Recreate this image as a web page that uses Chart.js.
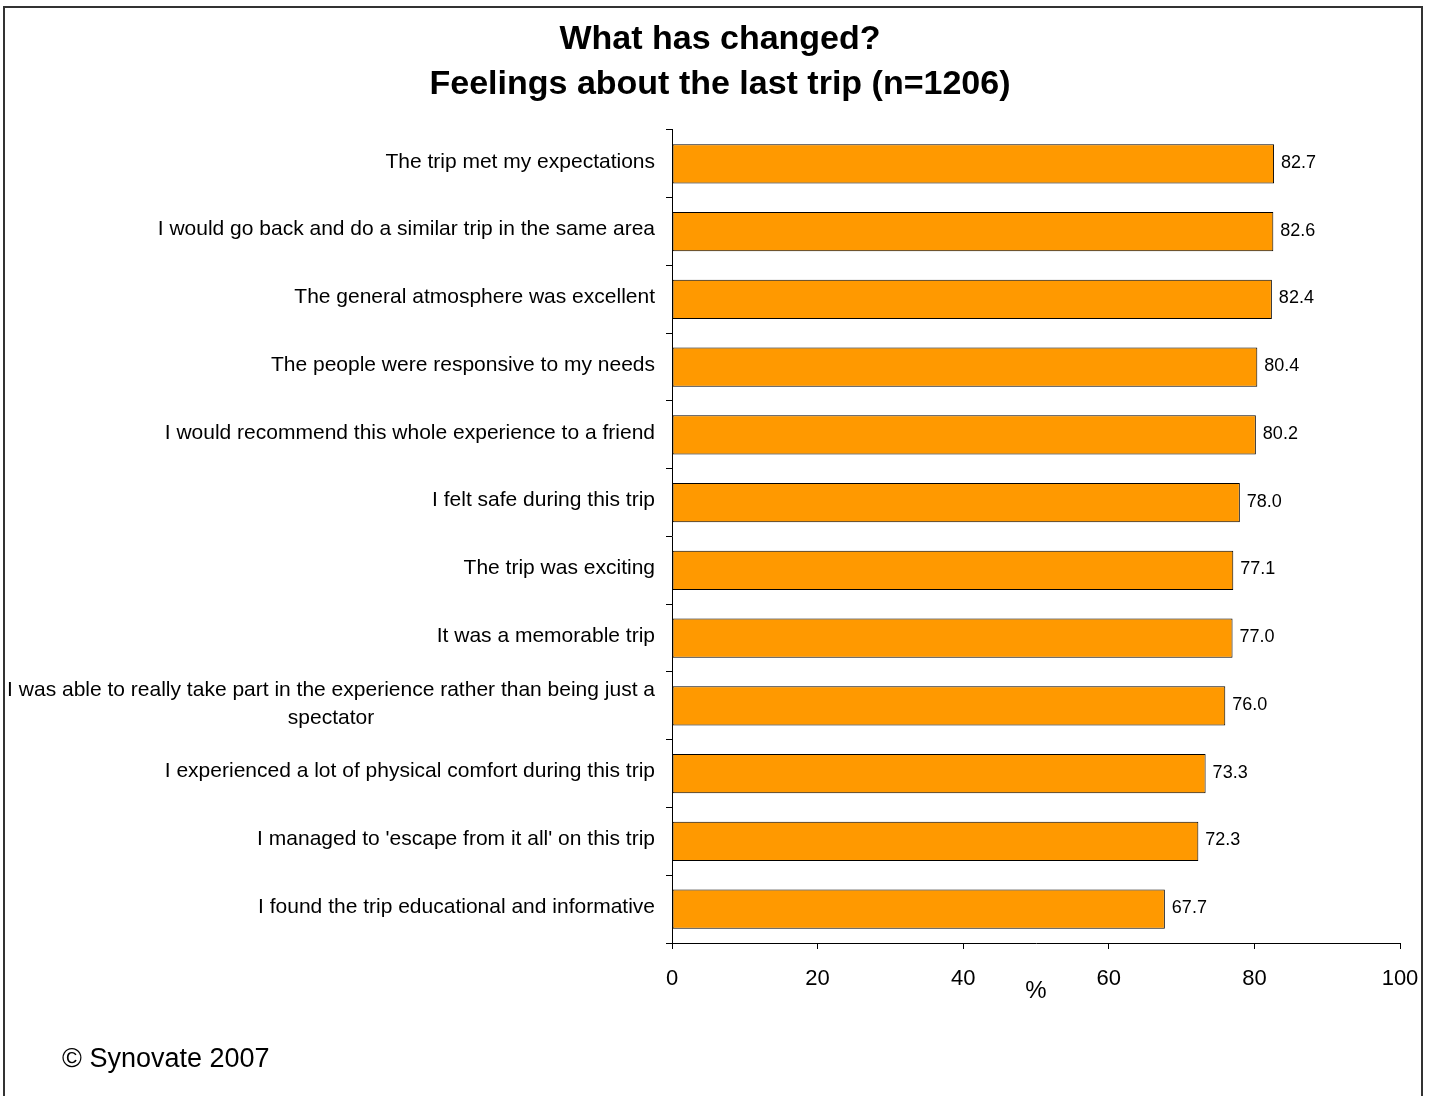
<!DOCTYPE html>
<html><head><meta charset="utf-8">
<script src="https://cdn.jsdelivr.net/npm/chart.js@4/dist/chart.umd.min.js"></script>
<style>
html,body{margin:0;padding:0;background:#fff;overflow:hidden}
#wrap{position:relative;width:1433px;height:1096px;overflow:hidden}
#frame{position:absolute;left:3px;top:6px;width:1420px;height:1120px;border:2px solid #333;box-sizing:border-box}
canvas{position:absolute;left:0;top:0}
#foot{position:absolute;left:62px;top:1043px;font:27px "Liberation Sans",Arial,sans-serif;color:#000;line-height:30px}
</style></head>
<body><div id="wrap"><div id="frame"></div><canvas id="c" width="1433" height="1096"></canvas><div id="foot">© Synovate 2007</div></div>
<script>
const titleLines = ["What has changed?", "Feelings about the last trip (n=1206)"];
const categories = [
  "The trip met my expectations",
  "I would go back and do a similar trip in the same area",
  "The general atmosphere was excellent",
  "The people were responsive to my needs",
  "I would recommend this whole experience to a friend",
  "I felt safe during this trip",
  "The trip was exciting",
  "It was a memorable trip",
  ["I was able to really take part in the experience rather than being just a", "spectator"],
  "I experienced a lot of physical comfort during this trip",
  "I managed to 'escape from it all' on this trip",
  "I found the trip educational and informative"
];
const values = [82.7, 82.6, 82.4, 80.4, 80.2, 78.0, 77.1, 77.0, 76.0, 73.3, 72.3, 67.7];
const xTickValues = [0, 20, 40, 60, 80, 100];
const xAxisTitle = "%";

const FONT = '"Liberation Sans", Arial, sans-serif';
Chart.defaults.font.family = FONT;
Chart.defaults.color = '#000';

const labelPlugin = {
  id: 'customLabels',
  afterDatasetsDraw(chart) {
    const ctx = chart.ctx;
    const yScale = chart.scales.y;
    const meta = chart.getDatasetMeta(0);
    ctx.save();
    ctx.fillStyle = '#000';
    ctx.textBaseline = 'middle';
    ctx.font = '21px ' + FONT;
    const right = yScale.right - 17;
    categories.forEach((lab, i) => {
      const lines = Array.isArray(lab) ? lab : [lab];
      const cy = yScale.getPixelForValue(i) - 2;
      const bw = Math.max(...lines.map(l => ctx.measureText(l).width));
      ctx.textAlign = 'center';
      lines.forEach((l, j) => {
        const ly = cy + (j - (lines.length - 1) / 2) * 28;
        ctx.fillText(l, right - bw / 2, ly);
      });
    });
    ctx.font = '18px ' + FONT;
    ctx.textAlign = 'left';
    meta.data.forEach((bar, i) => {
      ctx.fillText(values[i].toFixed(1), bar.x + 7, bar.y - 1);
    });
    ctx.restore();
  }
};

new Chart(document.getElementById('c'), {
  type: 'bar',
  data: {
    labels: categories,
    datasets: [{
      data: values,
      backgroundColor: '#FF9900',
      borderColor: '#000',
      borderWidth: 1,
      borderSkipped: false,
      barPercentage: 0.58,
      categoryPercentage: 1
    }]
  },
  options: {
    indexAxis: 'y',
    responsive: false,
    animation: false,
    devicePixelRatio: 1,
    layout: { padding: { left: 40, right: 33, top: 0, bottom: 0 } },
    plugins: {
      legend: { display: false },
      tooltip: { enabled: false },
      title: {
        display: true,
        text: titleLines,
        color: '#000',
        font: { family: FONT, size: 34, weight: 'bold', lineHeight: 1.3235 },
        padding: { top: 17, bottom: 23 }
      }
    },
    scales: {
      x: {
        min: 0, max: 100,
        afterBuildTicks(s) { s.ticks = xTickValues.map(v => ({ value: v })); },
        ticks: { font: { size: 22 }, color: '#000', padding: 17, maxRotation: 0 },
        grid: { drawOnChartArea: false, tickLength: 6, color: '#000' },
        border: { color: '#000', width: 1 },
        title: { display: true, text: xAxisTitle, color: '#000', font: { size: 24 }, padding: { top: 0, bottom: 90 } },
        afterFit(s) { s.height = 153; s.paddingRight = 0; s.paddingLeft = 0; }
      },
      y: {
        ticks: { display: false },
        grid: { drawOnChartArea: false, tickLength: 6, color: '#000', offset: true },
        border: { color: '#000', width: 1 },
        afterFit(s) { s.width = 632; s.paddingTop = 0; s.paddingBottom = 0; }
      }
    }
  },
  plugins: [labelPlugin]
});
</script>
</body></html>
